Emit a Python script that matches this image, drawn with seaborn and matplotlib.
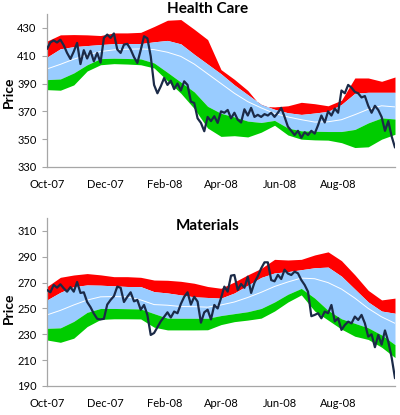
import matplotlib
matplotlib.use("Agg")
import matplotlib.pyplot as plt
import matplotlib.dates as mdates
import numpy as np
import pandas as pd
import seaborn as sns

# ---------------- data ----------------
start_date = "2007-10-01"
end_date = "2008-09-30"

x_tick_dates = ["2007-10-01", "2007-12-01", "2008-02-01", "2008-04-01", "2008-06-01", "2008-08-01"]
hc_yticks = [330, 350, 370, 390, 410, 430]
hc_ylim = (330, 440)
mat_yticks = [190, 210, 230, 250, 270, 290, 310]
mat_ylim = (190, 320)

hc_price = [414.9, 419.5, 421, 419.5, 421.5, 417.5, 412, 407.7, 413, 419.2,
            404, 414, 408, 413.5, 406, 412, 405, 422.8, 425.2, 422.8,
            426, 414.5, 412, 418, 418.5, 414.5, 409, 404.8, 414, 424,
            422.5, 409.6, 389, 383, 388, 394, 389, 392, 386, 390,
            385, 391.6, 389, 377, 376, 365, 361.7, 355.7, 366, 363,
            366.5, 361.7, 370, 369, 371, 365, 369, 364, 362, 371.5,
            367, 372.5, 366, 367.5, 366, 368, 367, 369, 366, 369,
            372.5, 366, 359, 356, 353, 356, 351, 355, 353, 356,
            354, 360, 367, 362, 370, 367, 372, 369, 385, 383,
            389, 387, 384, 383, 380, 381, 374, 369, 374, 371,
            366, 356, 363, 352, 344]

hc_upper2 = [420.5, 425, 425.2, 425, 424.5, 426.4, 426.4, 426.8, 431, 435.5,
             436, 429, 421.6, 400, 393, 385, 373.5, 373.2, 374, 376.5,
             375.5, 374, 378, 394, 394, 391.6, 394.7]
hc_upper1 = [409, 415, 416.5, 417.3, 418, 418.7, 418.7, 418.7, 420, 421,
             418.5, 411, 404, 397, 389, 382, 375, 371.5, 369, 367.8,
             368.8, 370, 375, 383, 383.7, 383.7, 383.7]
hc_mid = [400.5, 403.8, 407.5, 410.5, 413, 414.2, 414.7, 414.9, 414.4, 412.5,
          409.5, 404, 397, 390, 383, 377, 372.5, 368.5, 366, 364,
          362.3, 362.5, 364, 367.6, 371.5, 374, 373.2]
hc_lower1 = [392.8, 393.3, 397.6, 403.5, 407.9, 408.2, 408, 407.7, 404.8, 398,
             391, 384, 373.6, 368.6, 366, 363, 362, 363.5, 358, 356,
             355.7, 355.5, 355.5, 357, 361.7, 365.3, 364.5]
hc_lower2 = [385.6, 385.2, 389, 399, 403.5, 404.3, 404, 403.5, 401.2, 392,
             383, 372, 358, 352, 352.5, 351.6, 355, 360, 353, 350,
             349.5, 349.3, 347.5, 344, 344.5, 350, 353.5]

mat_price = [264.3, 262.5, 268.2, 266.1, 268.7, 265.6, 263, 266.5, 263, 270.5,
             262, 262.5, 255, 251, 246, 242, 241.5, 242, 253, 256.6,
             259.5, 266.9, 266, 255, 259, 262.5, 255.5, 256.6, 249, 252.7,
             245, 229.5, 231, 235.5, 240, 243.5, 247, 243, 247.6, 246.3,
             253.5, 259, 262.5, 253, 259, 255.3, 239, 247, 249, 241.5,
             252.7, 250, 258, 266.9, 263, 275.4, 275.9, 264.3, 269, 266,
             274.6, 262, 270, 275, 281, 285.7, 285.7, 272, 271, 276,
             272.8, 280, 277, 275.9, 278.5, 277.2, 272, 268.2, 263, 244,
             245, 246.3, 242.4, 247.6, 246.3, 252.7, 240, 242.4, 233.4, 237.2,
             239.8, 238.5, 243.7, 241.1, 245, 238.5, 228.2, 230, 220, 229.5,
             222, 233, 224.3, 212, 196]

mat_upper2 = [266.9, 274.1, 275.9, 277, 276, 274.6, 274.6, 274.1, 272, 271.8,
              271, 269.5, 267, 265.6, 270.5, 276, 281, 288, 287.5, 288,
              291.4, 293.8, 287, 276, 264, 256.6, 258]
mat_upper1 = [256.6, 262.5, 266.9, 268.2, 268, 267.5, 267, 266.9, 263, 262,
              260.5, 259, 258.5, 258, 262, 268, 274, 277.5, 278.5, 280,
              281.5, 282, 275, 265, 255, 248, 246.3]
mat_mid = [245, 248.5, 252.7, 256.5, 259, 259.2, 259, 256.6, 253, 252.5,
           251.5, 251.4, 251, 252.7, 255, 258.5, 262.5, 267, 270.5, 273.5,
           273, 270, 265, 258, 250, 243.5, 238.5]
mat_lower1 = [234.6, 235, 240, 247, 250, 250, 249.8, 249.6, 246, 242.5,
              242.4, 242.4, 242.4, 244.5, 246, 247.5, 250, 255, 261, 265.5,
              258, 248.5, 242, 238.5, 235, 229.5, 222]
mat_lower2 = [225.6, 223.8, 227, 236, 241.5, 242, 242, 241.9, 235.5, 233.4,
              233.4, 233.4, 233.5, 237.5, 239.8, 241, 242.5, 248, 255, 260.5,
              248, 241, 234, 228.5, 226, 220, 212]

RED = "#FF0000"
BLUE = "#99CCFF"
GREEN = "#00CC00"
NAVY = "#1B2A47"

# ---------------- plotting ----------------
sns.set_theme(style="white")
plt.rcParams["font.family"] = ["Lato", "DejaVu Sans"]

fig = plt.figure(figsize=(4.0, 4.15), dpi=100)
ax1 = fig.add_axes([0.1175, 0.5976, 0.87, 0.3687])
ax2 = fig.add_axes([0.1175, 0.0699, 0.87, 0.4048])


def draw(ax, price, u2, u1, mid, l1, l2, yticks, ylim, title, ylab_y, title_y):
    pdates = pd.date_range(start_date, end_date, periods=len(price))
    bdates = pd.date_range(start_date, end_date, periods=len(mid))
    bands = pd.DataFrame({"date": bdates, "u2": u2, "u1": u1, "mid": mid,
                          "l1": l1, "l2": l2})
    pdf = pd.DataFrame({"date": pdates, "price": price})

    ax.fill_between(bands["date"], bands["u1"], bands["u2"], color=RED, lw=0, zorder=1)
    ax.fill_between(bands["date"], bands["l1"], bands["u1"], color=BLUE, lw=0, zorder=1)
    ax.fill_between(bands["date"], bands["l2"], bands["l1"], color=GREEN, lw=0, zorder=1)
    sns.lineplot(data=bands, x="date", y="mid", ax=ax, color="white", lw=0.7, zorder=2)
    sns.lineplot(data=pdf, x="date", y="price", ax=ax, color=NAVY, lw=1.6, zorder=3)

    ax.set_xlim(pd.Timestamp(start_date), pd.Timestamp(end_date))
    ax.set_ylim(*ylim)
    ax.set_yticks(yticks)
    ax.set_yticklabels([str(v) for v in yticks])
    ax.set_xticks(pd.to_datetime(x_tick_dates))
    ax.xaxis.set_major_formatter(mdates.DateFormatter("%b-%y"))
    ax.tick_params(axis="x", length=0, pad=9, labelsize=8, colors="#000000")
    ax.tick_params(axis="y", length=3.5, width=0.8, pad=4, labelsize=8,
                   colors="#000000", left=True, color="#A6A6A6")
    for s in ["top", "right"]:
        ax.spines[s].set_visible(False)
    for s in ["left", "bottom"]:
        ax.spines[s].set_color("#A6A6A6")
        ax.spines[s].set_linewidth(0.9)
    ax.set_xlabel("")
    ax.set_ylabel("Price", fontsize=10, fontweight="bold", color="#000000")
    ax.yaxis.set_label_coords(-0.093, ylab_y)
    fig.text(0.52, title_y, title, ha="center", va="baseline",
             fontsize=11, fontweight="bold", color="#000000")


draw(ax1, hc_price, hc_upper2, hc_upper1, hc_mid, hc_lower1, hc_lower2,
     hc_yticks, hc_ylim, "Health Care", 0.49, 0.968)
draw(ax2, mat_price, mat_upper2, mat_upper1, mat_mid, mat_lower1, mat_lower2,
     mat_yticks, mat_ylim, "Materials", 0.46, 0.445)

fig.savefig("out.png", dpi=100)
